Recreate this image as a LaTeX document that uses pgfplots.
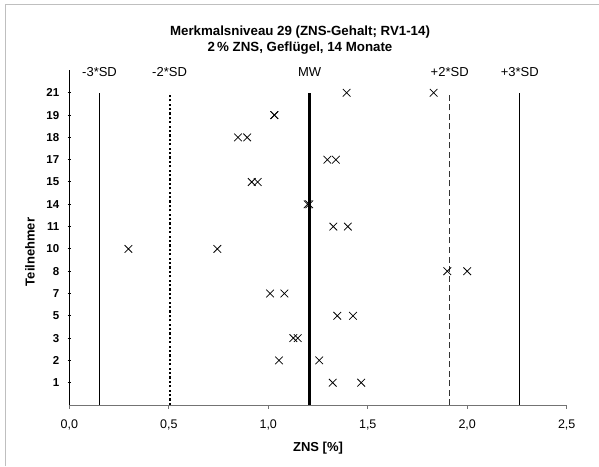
\documentclass[border=0pt]{standalone}
\usepackage{pgfplots}
\pgfplotsset{compat=1.18}
\usepackage{fontspec}
\setmainfont{Liberation Sans}
\begin{document}
\begin{tikzpicture}[x=1pt,y=1pt]
\path[use as bounding box] (0,0) rectangle (599,466);
\draw[color=black!25, line width=1.6pt] (5.5,0) -- (5.5,461.5) -- (599,461.5);
\begin{axis}[
  at={(69.3pt,61pt)}, anchor=south west,
  scale only axis, width=497.4pt, height=334.5pt,
  xmin=0, xmax=2.5, ymin=0, ymax=15,
  axis x line*=bottom, axis y line*=left,
  x axis line style={-, draw=black!55, line width=1pt},
  y axis line style={-, black, line width=0.8pt},
  xtick={0,0.5,1,1.5,2,2.5},
  ytick={1,2,3,4,5,6,7,8,9,10,11,12,13,14},
  yticklabels={1,2,3,5,7,8,10,11,14,15,17,18,19,21},
  tick align=outside,
  major tick length=3.5pt,
  xtick style={draw=black!55, line width=1pt},
  ytick style={black, line width=1pt, xshift=1.75pt},
  xticklabel style={font=\fontsize{12.5}{14}\selectfont, yshift=-8pt},
  yticklabel style={font=\fontsize{11.5}{13}\selectfont\bfseries, xshift=-3pt},
  /pgf/number format/.cd, use comma, fixed, fixed zerofill, precision=1, assume math mode=true,
  /pgfplots/.cd,
  clip=false,
]
% reference lines: MW = 1.208, SD = 0.352
\addplot[black, line width=0.8pt] coordinates {(0.152,0) (0.152,14)};
\addplot[black, line width=2pt, dash pattern=on 2.2pt off 2.2pt] coordinates {(0.504,0) (0.504,14)};
\addplot[black, line width=2.5pt] coordinates {(1.208,0) (1.208,14)};
\addplot[black!80, line width=0.8pt, dash pattern=on 6pt off 3.5pt] coordinates {(1.912,0) (1.912,14)};
\addplot[black, line width=0.8pt] coordinates {(2.264,0) (2.264,14)};
% participant results (x = ZNS %, y = participant position)
\addplot[only marks, mark=x, mark size=5.4pt, mark options={black, line width=0.75pt}] table {
x y
1.324 1
1.467 1
1.054 2
1.256 2
1.126 3
1.148 3
1.347 4
1.426 4
1.009 5
1.081 5
1.900 6
2.000 6
0.297 7
0.744 7
1.327 8
1.400 8
1.198 9
1.206 9
0.917 10
0.947 10
1.297 11
1.340 11
0.848 12
0.894 12
1.030 13
1.031 13
1.394 14
1.831 14
};
\node[font=\fontsize{13}{15}\selectfont] at (axis cs:0.152,14.95) {-3*SD};
\node[font=\fontsize{13}{15}\selectfont] at (axis cs:0.504,14.95) {-2*SD};
\node[font=\fontsize{13}{15}\selectfont] at (axis cs:1.208,14.95) {MW};
\node[font=\fontsize{13}{15}\selectfont] at (axis cs:1.912,14.95) {+2*SD};
\node[font=\fontsize{13}{15}\selectfont] at (axis cs:2.264,14.95) {+3*SD};
\end{axis}
\node[font=\fontsize{13.3}{15}\selectfont\bfseries] at (300,433.5) {Merkmalsniveau 29 (ZNS-Gehalt; RV1-14)};
\node[font=\fontsize{13.3}{15}\selectfont\bfseries] at (300,418) {2\,\% ZNS, Geflügel, 14 Monate};
\node[font=\fontsize{13}{15}\selectfont\bfseries, rotate=90] at (30,214) {Teilnehmer};
\node[font=\fontsize{13}{15}\selectfont\bfseries] at (318,18) {ZNS [\%]};
\end{tikzpicture}
\end{document}
